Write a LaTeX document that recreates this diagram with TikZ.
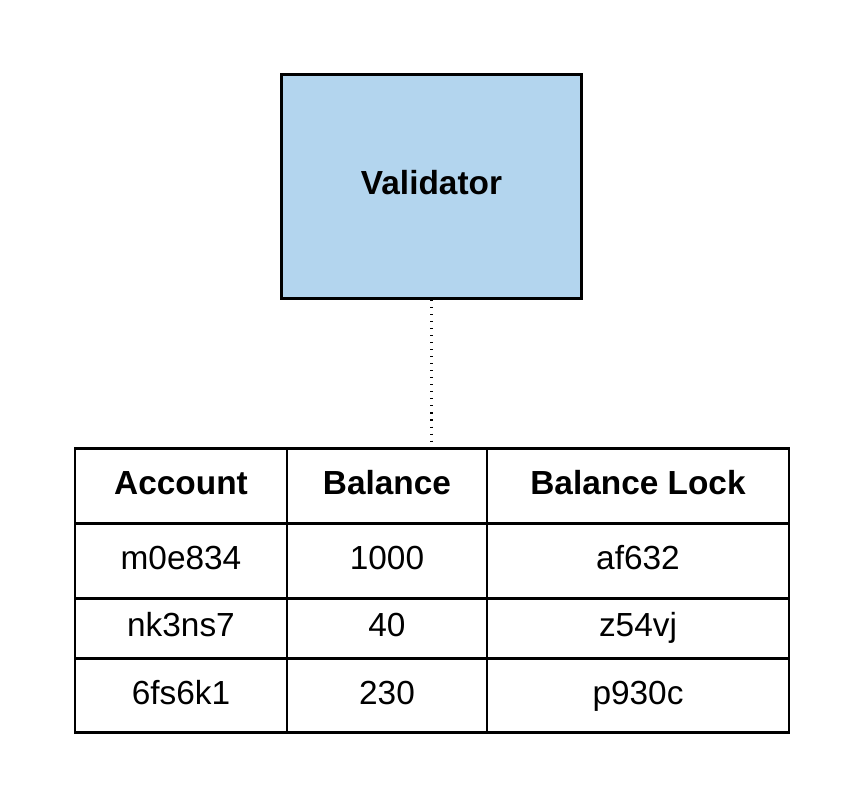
\documentclass[tikz,border=0pt]{standalone}
\usepackage{fontspec}
\setmainfont{Liberation Sans}
\usetikzlibrary{positioning}

\definecolor{valblue}{RGB}{179,213,238}

\tikzset{
  cell/.style={draw, line width=1.7pt, inner sep=0pt, text height=0.48cm, text depth=0.14cm,
               font=\fontsize{19}{23}\selectfont},
  headcell/.style={cell, font=\fontsize{19}{23}\selectfont\bfseries},
  link/.style={line width=1.5pt, dash pattern=on 0.6pt off 3.4pt},
}

\begin{document}
\begin{tikzpicture}
\useasboundingbox (0,0) rectangle (17.28,16.2);

%================ VALIDATOR BOX ==================
\node[draw, line width=1.7pt, fill=valblue, minimum width=6cm, minimum height=4.48cm,
      inner sep=0pt, text height=0.48cm, text depth=0.14cm,
      font=\fontsize{19}{23}\selectfont\bfseries] (validator) at (8.63,12.47) {Validator};

%================ TABLE HEADER ==================
\node[headcell, minimum width=4.24cm, minimum height=1.49cm] (acc0)  at (3.62,6.475)  {Account};
\node[headcell, minimum width=4cm,    minimum height=1.49cm] (bal0)  at (7.74,6.475)  {Balance};
\node[headcell, minimum width=6.04cm, minimum height=1.49cm] (lock0) at (12.76,6.475) {Balance Lock};

%================ TABLE ROWS ==================
\foreach \i/\acc/\bal/\lock/\y/\h in {1/m0e834/1000/af632/4.98/1.5,
                                      2/nk3ns7/40/z54vj/3.63/1.2,
                                      3/6fs6k1/230/p930c/2.285/1.49} {
  \node[cell, minimum width=4.24cm, minimum height=\h cm] (acc\i)  at (3.62,\y)  {\acc};
  \node[cell, minimum width=4cm,    minimum height=\h cm] (bal\i)  at (7.74,\y)  {\bal};
  \node[cell, minimum width=6.04cm, minimum height=\h cm] (lock\i) at (12.76,\y) {\lock};
}

%================ LINK ==================
\draw[link] (validator.south) -- (validator.south |- bal0.north);

\end{tikzpicture}
\end{document}
